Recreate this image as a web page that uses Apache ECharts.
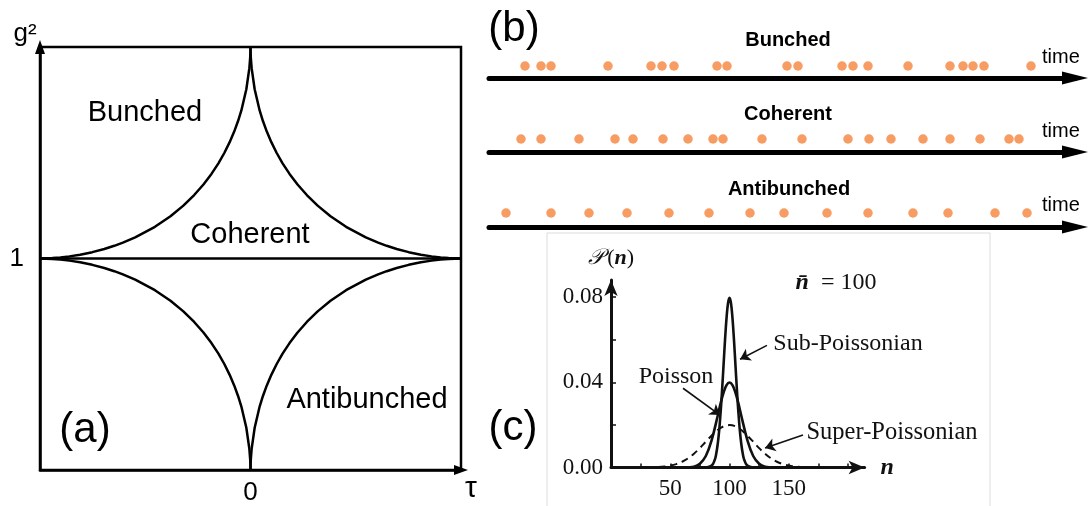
<!DOCTYPE html>
<html>
<head>
<meta charset="utf-8">
<script src="https://cdn.jsdelivr.net/npm/echarts@6/dist/echarts.min.js"></script>
<style>
  html, body { margin: 0; padding: 0; background: #fff; }
  #chart { width: 1090px; height: 506px; }
</style>
</head>
<body>
<div id="chart"></div>
<script>
// (a) one quarter arc of the g2(tau) boundary: offset from the cusp line (u) vs. height above g2 = 1 (v)
const arcV = [1, 0.98, 0.95, 0.9, 0.8, 0.7, 0.65, 0.6, 0.55, 0.5, 0.45, 0.4, 0.35, 0.3, 0.25, 0.2, 0.15, 0.1, 0.075, 0.06, 0.045, 0.03, 0.018, 0.01, 0.005, 0.002, 0];
const arcU = [0, 0.0003, 0.0015, 0.0054, 0.0198, 0.0434, 0.0591, 0.0775, 0.099, 0.1238, 0.1524, 0.1855, 0.2235, 0.2676, 0.319, 0.3801, 0.454, 0.5478, 0.6063, 0.6472, 0.6945, 0.7515, 0.8094, 0.8604, 0.9035, 0.9412, 1];
const tauTicks = [0];
const g2Ticks = [1];

// (b) photon arrival times along each time axis
const timeMax = 586;
const bunchedTimes = [36, 52, 62, 119, 162, 173, 185, 228, 238, 298, 309, 353, 364, 379, 419, 461, 474, 484, 495, 542];
const coherentTimes = [32, 52, 90, 126, 144, 174, 199, 224, 234, 273, 313, 359, 380, 402, 434, 461, 491, 520, 530];
const antibunchedTimes = [17, 62, 100, 138, 180, 220, 261, 295, 338, 379, 424, 459, 506, 538];

// (c) photon-number distributions P(n) for mean n = 100
const superN = [40, 45, 50, 55, 60, 65, 70, 75, 80, 85, 90, 95, 100, 105, 110, 115, 120, 125, 130, 135, 140, 145, 150, 155, 160];
const superP = [0.0002, 0.00045, 0.0009, 0.0016, 0.0027, 0.0043, 0.0065, 0.0091, 0.0121, 0.0150, 0.0176, 0.0193, 0.0199, 0.0193, 0.0176, 0.0150, 0.0121, 0.0091, 0.0065, 0.0043, 0.0027, 0.0016, 0.0009, 0.00045, 0.0002];
const poissonN = [60, 65, 70, 75, 80, 85, 90, 92.5, 95, 97.5, 100, 102.5, 105, 107.5, 110, 115, 120, 125, 130, 135, 140];
const poissonP = [0.00001, 0.0001, 0.0004, 0.0018, 0.0054, 0.0130, 0.0242, 0.0301, 0.0352, 0.0387, 0.0399, 0.0387, 0.0352, 0.0301, 0.0242, 0.0130, 0.0054, 0.0018, 0.0004, 0.0001, 0.00001];
const subN = [80, 85, 87.5, 88.75, 90, 91.25, 92.5, 93.75, 95, 96.25, 97.5, 98.75, 100, 101.25, 102.5, 103.75, 105, 106.25, 107.5, 108.75, 110, 111.25, 112.5, 115, 120];
const subP = [0.00003, 0.0009, 0.0035, 0.0063, 0.0108, 0.0172, 0.0259, 0.0364, 0.0483, 0.0601, 0.0702, 0.0771, 0.0796, 0.0771, 0.0702, 0.0601, 0.0483, 0.0364, 0.0259, 0.0172, 0.0108, 0.0063, 0.0035, 0.0009, 0.00003];
const nTickLabels = [50, 100, 150];
const nTicks = [25, 50, 75, 100, 125, 150, 175, 200];
const pTickLabels = [0, 0.04, 0.08];
const pTicks = [0.02, 0.04, 0.06, 0.08];
// annotation arrows: [from, to] in (n, P)
const annotArrows = [
  [[131.6, 0.0573], [108.9, 0.0508]],
  [[60.8, 0.0372], [92.0, 0.0246]],
  [[162.0, 0.0152], [130.0, 0.0091]]
];

const SANS = "'Liberation Sans', Arial, sans-serif";
const SERIF = "'Liberation Serif', 'Times New Roman', serif";
const orange = '#f5843c';
const ink = '#000';

const pairs = (xs, ys) => xs.map((x, i) => [x, ys[i]]);
const ul = arcU.map((u, i) => [-u, 1 + arcV[i]]);
const ur = arcU.map((u, i) => [u, 1 + arcV[i]]);
const ll = arcU.map((u, i) => [-u, 1 - arcV[i]]);
const lr = arcU.map((u, i) => [u, 1 - arcV[i]]);

const chart = echarts.init(document.getElementById('chart'), null, { renderer: 'canvas' });

function timeAxis(gridIndex) {
  return {
    gridIndex, type: 'value', min: 0, max: timeMax,
    axisLine: { show: true, onZero: false, symbol: ['none', 'triangle'], symbolSize: [13, 26],
      lineStyle: { color: ink, width: 5, cap: 'round' } },
    axisTick: { show: false }, axisLabel: { show: false }, splitLine: { show: false }
  };
}
function hiddenY(gridIndex) {
  return { gridIndex, type: 'value', min: 0, max: 2, show: false };
}
function dots(idx, times) {
  return {
    type: 'scatter', xAxisIndex: idx, yAxisIndex: idx,
    data: times.map(t => [t, 1]),
    symbol: 'circle', symbolSize: 9.5,
    itemStyle: { color: orange }, silent: true
  };
}
function arcSeries(data) {
  return {
    type: 'line', xAxisIndex: 0, yAxisIndex: 0, data,
    showSymbol: false, smooth: false, silent: true,
    lineStyle: { color: ink, width: 2.5 }
  };
}
function distSeries(data, dashed, extra) {
  return Object.assign({
    type: 'line', xAxisIndex: 4, yAxisIndex: 4, data,
    showSymbol: false, smooth: 0.4, silent: true,
    lineStyle: { color: '#111', width: dashed ? 2 : 2.6, type: dashed ? [7, 5] : 'solid' }
  }, extra || {});
}

const textEl = (text, x, y, font, opts) => Object.assign({
  type: 'text', silent: true, z: 10,
  style: Object.assign({ text, x, y, font, fill: ink, textAlign: 'center', textVerticalAlign: 'middle' }, opts || {})
});

const option = {
  animation: false,
  backgroundColor: '#fff',
  grid: [
    { left: 40, top: 47, width: 421, height: 423, show: true, borderColor: ink, borderWidth: 2.5, backgroundColor: 'transparent', outerBoundsMode: 'none' },
    { left: 489, top: 54, width: timeMax, height: 24, outerBoundsMode: 'none' },
    { left: 489, top: 126, width: timeMax, height: 26, outerBoundsMode: 'none' },
    { left: 489, top: 199, width: timeMax, height: 28, outerBoundsMode: 'none' },
    { left: 611, top: 280, width: 253.6, height: 187.5, outerBoundsMode: 'none' }
  ],
  xAxis: [
    {
      gridIndex: 0, type: 'value', min: -1, max: 1,
      axisLine: { show: true, onZero: false, symbol: ['none', 'triangle'], symbolSize: [10, 14], lineStyle: { color: ink, width: 2.5 } },
      axisTick: { show: false }, splitLine: { show: false },
      axisLabel: { customValues: tauTicks, color: ink, fontFamily: SANS, fontSize: 26, margin: 10 }
    },
    timeAxis(1), timeAxis(2), timeAxis(3),
    {
      gridIndex: 4, type: 'value', min: 0, max: 214,
      axisLine: { show: true, onZero: false, symbol: ['none', 'arrow'], symbolSize: [10, 16], lineStyle: { color: '#111', width: 3 } },
      axisTick: { show: true, inside: true, length: 4, customValues: nTicks, lineStyle: { color: '#111', width: 1.5 } },
      splitLine: { show: false },
      axisLabel: { customValues: nTickLabels, color: '#111', fontFamily: SERIF, fontSize: 23, margin: 10 },
      name: 'n', nameLocation: 'end', nameGap: 16,
      nameTextStyle: { color: '#111', fontFamily: SERIF, fontSize: 24, fontStyle: 'italic', fontWeight: 'bold' }
    }
  ],
  yAxis: [
    {
      gridIndex: 0, type: 'value', min: 0, max: 2,
      axisLine: { show: true, onZero: false, symbol: ['none', 'triangle'], symbolSize: [10, 14], lineStyle: { color: ink, width: 2.5 } },
      axisTick: { show: false }, splitLine: { show: false },
      axisLabel: { customValues: g2Ticks, color: ink, fontFamily: SANS, fontSize: 26, margin: 16 }
    },
    hiddenY(1), hiddenY(2), hiddenY(3),
    {
      gridIndex: 4, type: 'value', min: 0, max: 0.088,
      axisLine: { show: true, onZero: false, symbol: ['none', 'arrow'], symbolSize: [10, 16], lineStyle: { color: '#111', width: 3 } },
      axisTick: { show: true, inside: true, length: 5, customValues: pTicks, lineStyle: { color: '#111', width: 1.5 } },
      splitLine: { show: false },
      axisLabel: { customValues: pTickLabels, color: '#111', fontFamily: SERIF, fontSize: 23, margin: 8,
        formatter: v => v.toFixed(2) },
      name: '{p|\u{1D4AB}} {b|(}{n|n}{b|)}', nameLocation: 'end', nameGap: 11,
      nameTextStyle: {
        color: '#111',
        rich: {
          p: { fontFamily: "'DejaVu Serif', 'DejaVu Sans', serif", fontSize: 22, fontStyle: 'italic', color: '#111' },
          b: { fontFamily: SERIF, fontSize: 22, color: '#111' },
          n: { fontFamily: SERIF, fontSize: 22, fontStyle: 'italic', fontWeight: 'bold', color: '#111' }
        }
      }
    }
  ],
  series: [
    arcSeries(ul), arcSeries(ur), arcSeries(ll), arcSeries(lr),
    arcSeries([[-1, 1], [1, 1]]),
    dots(1, bunchedTimes), dots(2, coherentTimes), dots(3, antibunchedTimes),
    distSeries(pairs(superN, superP), true),
    distSeries(pairs(poissonN, poissonP), false),
    distSeries(pairs(subN, subP), false, {
      markLine: {
        silent: true, animation: false,
        symbol: ['none', 'arrow'], symbolSize: 10,
        label: { show: false },
        lineStyle: { color: '#111', width: 1.6, type: 'solid' },
        data: annotArrows.map(a => [{ coord: a[0] }, { coord: a[1] }])
      }
    })
  ],
  graphic: {
    elements: [
      { type: 'rect', silent: true, z: -10, shape: { x: 547, y: 233, width: 443, height: 300 },
        style: { fill: '#fff', stroke: '#dcdcdc', lineWidth: 1 } },
      // (a)
      textEl('g\u00B2', 25, 34, '26px ' + SANS),
      textEl('\u03C4', 471, 489, '30px ' + SANS),
      textEl('Bunched', 145, 113, '29px ' + SANS),
      textEl('Coherent', 250, 235, '29px ' + SANS),
      textEl('Antibunched', 367, 400, '29px ' + SANS),
      textEl('(a)', 85, 430, '42px ' + SANS),
      // (b)
      textEl('(b)', 514, 29, '42px ' + SANS),
      textEl('Bunched', 788, 40, 'bold 20px ' + SANS),
      textEl('Coherent', 788, 114, 'bold 20px ' + SANS),
      textEl('Antibunched', 789, 189, 'bold 20px ' + SANS),
      textEl('time', 1042, 57, '20px ' + SANS, { textAlign: 'left' }),
      textEl('time', 1042, 131, '20px ' + SANS, { textAlign: 'left' }),
      textEl('time', 1042, 205, '20px ' + SANS, { textAlign: 'left' }),
      // (c)
      textEl('(c)', 513, 428, '42px ' + SANS),
      textEl('{nb|n\u0304}  {r|= 100}', 836, 283, '24px ' + SERIF, {
        fill: '#111',
        rich: {
          nb: { font: 'italic bold 24px ' + SERIF, fill: '#111' },
          r: { font: '24px ' + SERIF, fill: '#111' }
        }
      }),
      textEl('Sub-Poissonian', 848, 344, '24px ' + SERIF, { fill: '#111' }),
      textEl('Poisson', 676, 377, '24px ' + SERIF, { fill: '#111' }),
      textEl('Super-Poissonian', 892, 433, '24.5px ' + SERIF, { fill: '#111' })
    ]
  }
};

chart.setOption(option);
</script>
</body>
</html>
